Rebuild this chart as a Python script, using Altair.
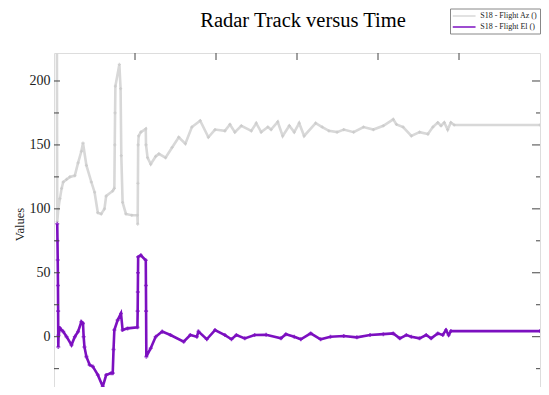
import altair as alt
import pandas as pd

TITLE = "Radar Track versus Time"
AZ = "S18 - Flight Az ()"
EL = "S18 - Flight El ()"

az_t = [3.5, 4.0, 5.3, 7.3, 9.4, 11.4, 15.5, 19.6, 25.7, 29.7, 33.8, 35.8, 40.0, 46.1, 50.1, 54.1,
        58.3, 62.3, 64.4, 72.5, 74.5, 75.0, 75.4, 75.8, 80.7, 82.2, 83.1, 84.7, 88.8, 96.0, 103.0,
        103.3, 103.6, 103.9, 104.5, 107.2, 113.3, 113.6, 115.5, 119.4, 125.5, 129.5, 137.7, 145.8,
        154.0, 162.2, 170.2, 180.5, 190.6, 198.8, 211.0, 217.2, 223.3, 231.3, 243.6, 249.7, 255.8,
        264.0, 268.0, 276.2, 282.3, 290.5, 296.6, 302.7, 308.8, 323.0, 331.2, 339.4, 349.5, 357.7,
        369.9, 382.1, 394.3, 406.6, 418.8, 422.8, 431.0, 441.2, 451.3, 461.6, 467.7, 473.8, 477.8,
        481.8, 486.0, 490.0, 494.1, 600.0]
az_v = [260, 90, 100, 108, 116, 121, 123, 125, 126, 136, 145, 151.5, 134, 121, 113, 97,
        96, 100, 110, 114, 116, 150, 175, 196, 213, 194, 141.6, 105, 96, 95, 95,
        88, 120, 150, 157, 160, 162.6, 150, 140, 135, 141, 143, 140, 148,
        156, 151, 164, 169, 156, 162, 161, 166, 160, 165, 161, 167, 160,
        164, 162, 168, 157, 165, 160, 167, 157, 167, 164, 161, 160, 162,
        160, 164, 162, 165, 170, 166, 164, 157, 160, 158.5, 164, 167.5, 165,
        167.5, 162, 167.5, 165.6, 165.6]

el_t = [4.0, 4.3, 4.6, 4.9, 5.1, 5.3, 5.6, 7.3, 11.4, 15.5,
        21.6, 25.7, 29.7, 33.8, 35.8, 36.6, 37.6, 40.0, 44.0, 48.0,
        54.1, 60.2, 64.4, 70.5, 72.5, 73.5, 74.5, 78.6, 82.7, 84.7,
        90.8, 103.0, 103.3, 103.5, 103.7, 103.9, 107.2, 113.3, 113.5, 113.7,
        114.0, 119.4, 125.5, 133.6, 143.8, 160.1, 168.3, 176.3, 178.4, 188.6,
        198.8, 211.0, 219.1, 225.2, 235.5, 247.7, 261.9, 280.2, 286.3, 296.6,
        304.7, 316.9, 329.1, 341.3, 357.7, 373.9, 390.2, 406.6, 418.8, 426.9,
        435.0, 441.2, 451.3, 459.5, 465.6, 473.8, 479.9, 483.9, 487.2, 490.0,
        600.0]
el_v = [88.4, 75, 60, 40, 20, -8, 1, 6.8, 4, 0,
        -6.5, 0, 4, 11.7, 10.4, 0, -8, -15.6, -22, -23.4,
        -29.9, -39, -30, -28.5, -28.5, -10, 5.2, 13, 18.2, 5.2,
        6.5, 7.3, 20, 35, 50, 62.4, 63.7, 59.8, 40, 20,
        -15.6, -9, 0, 4, 1.3, -3.9, 1.3, 0, 4, -2,
        5.2, 1.3, -2, 1.3, -1.3, 1.3, 1.5, -1.3, 2, 0,
        -2, 2.6, -2, 0, 0.5, -0.5, 1.3, 2, 2.6, -1.3,
        1.3, 0, -1.3, 1.3, -1.3, 2.6, 1.3, 5.2, 1.3, 4.4,
        4.4]

y_major = [0, 50, 100, 150, 200]
y_minor = [-25, 25, 75, 125, 175]
x_ticks = [100, 200, 300, 400, 500]
X_DOMAIN = [0, 600]
Y_DOMAIN = [-45.6, 221.9]

AZ_COLOR = "#d8d8d8"
EL_COLOR = "#7c10c0"
FONT = "Liberation Serif"
W, H = 486, 342

df = pd.concat([
    pd.DataFrame({"t": az_t, "v": az_v, "series": AZ, "i": range(len(az_t))}),
    pd.DataFrame({"t": el_t, "v": el_v, "series": EL, "i": range(len(el_t))}),
], ignore_index=True)

xs = alt.Scale(domain=X_DOMAIN, nice=False, zero=False)
ys = alt.Scale(domain=Y_DOMAIN, nice=False, zero=False)

legend = alt.Legend(
    orient="none", legendX=396, legendY=-44.5, title=None,
    strokeColor="#888", fillColor="white", padding=2,
    symbolType="M-2.4,0L2.4,0", symbolSize=90, symbolStrokeWidth=1.5,
    symbolOffset=6.65, labelOffset=10.6, labelFont=FONT, labelFontSize=8,
    labelColor="#222", rowPadding=1,
)

yaxis = alt.Axis(values=y_major, ticks=False, domain=False, grid=False, labelPadding=4,
                 labelFont=FONT, labelFontSize=14, labelColor="#222",
                 title="Values", titleFont=FONT, titleFontSize=12.5, titleFontWeight="normal",
                 titleColor="#222", titlePadding=3)

X = alt.X("t:Q", scale=xs, axis=None)
Y = alt.Y("v:Q", scale=ys, axis=yaxis)

lines = alt.Chart(df).mark_line(strokeWidth=2.6, clip=True).encode(
    x=X, y=Y,
    color=alt.Color("series:N", scale=alt.Scale(domain=[AZ, EL], range=[AZ_COLOR, EL_COLOR]), legend=legend),
    order=alt.Order("i:Q"),
)

az_pts = alt.Chart(df[df.series == AZ]).mark_point(shape="cross", size=10, filled=True, color="#c8c8c8", clip=True).encode(x=X, y=Y)
el_pts = alt.Chart(df[df.series == EL]).mark_point(shape="cross", size=16, filled=True, color=EL_COLOR, clip=True).encode(x=X, y=Y)

TICK = "#444"
ymaj = pd.DataFrame({"v": y_major})
ymin = pd.DataFrame({"v": y_minor})
xt = pd.DataFrame({"t": x_ticks})

def yrule(d, x0, x1):
    return alt.Chart(d).mark_rule(color=TICK, strokeWidth=1).encode(
        y=Y, x=alt.value(x0), x2=alt.value(x1))

def xrule(y0, y1):
    return alt.Chart(xt).mark_rule(color=TICK, strokeWidth=1).encode(
        x=X, y=alt.value(y0), y2=alt.value(y1))

ticks = [
    yrule(ymaj, 0, 6), yrule(ymin, 0, 5),
    yrule(ymaj, W - 8, W), yrule(ymin, W - 4, W),
    xrule(0, 7), xrule(H - 8, H),
]

title = alt.Chart(pd.DataFrame({"label": [TITLE]})).mark_text(
    font=FONT, fontSize=20.5, color="black", align="center", baseline="alphabetic"
).encode(text="label:N", x=alt.value(249), y=alt.value(-26))

chart = alt.layer(lines, az_pts, el_pts, *ticks, title).properties(
    width=W, height=H,
    autosize=alt.AutoSizeParams(type="none"),
    padding={"left": 46, "top": 45, "right": 1, "bottom": -8},
).configure_view(stroke="#333", strokeWidth=1).configure(background="white")

chart.save("out.html", embed_options={"renderer": "svg", "actions": False})
